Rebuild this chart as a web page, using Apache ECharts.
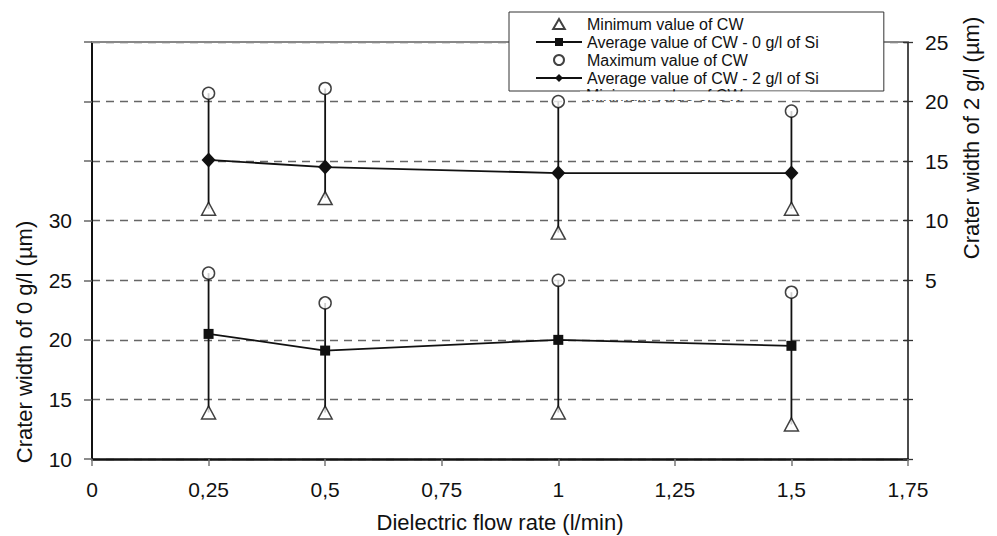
<!DOCTYPE html>
<html>
<head>
<meta charset="utf-8">
<title>Crater width vs dielectric flow rate</title>
<script src="https://cdn.jsdelivr.net/npm/echarts@6/dist/echarts.min.js"></script>
<style>
  html, body { margin: 0; padding: 0; background: #fff; }
  #chart { width: 997px; height: 536px; }
</style>
</head>
<body>
<div id="chart"></div>
<script>
// flow rates (l/min)
const flowRates = [0.25, 0.5, 1, 1.5];

// 0 g/l of Si, left axis
const avg0 = [20.5, 19.1, 20.0, 19.5];
const min0 = [13.9, 13.9, 13.9, 12.9];
const max0 = [25.6, 23.1, 25.0, 24.0];

// 2 g/l of Si, right axis
const avg2 = [15.1, 14.5, 14.0, 14.0];
const min2 = [11.0, 11.9, 9.0, 11.0];
const max2 = [20.7, 21.1, 20.0, 19.2];

const legendNames = [
  "Minimum value of CW",
  "Average value of CW - 0 g/l of Si",
  "Maximum value of CW",
  "Average value of CW - 2 g/l of Si",
];

const FONT = "'Liberation Sans', Arial, sans-serif";
const INK = "#111";

function pairs(xs, ys) {
  return xs.map((x, i) => [x, ys[i]]);
}

function errorBars(xs, lo, hi) {
  return xs.map((x, i) => [x, lo[i], hi[i]]);
}

function renderBar(params, api) {
  const p1 = api.coord([api.value(0), api.value(1)]);
  const p2 = api.coord([api.value(0), api.value(2)]);
  return {
    type: "line",
    shape: { x1: p1[0], y1: p1[1], x2: p2[0], y2: p2[1] },
    style: { stroke: INK, lineWidth: 1.8 },
  };
}

const openMarker = { color: "#fff", borderColor: INK, borderWidth: 1.5 };

const chart = echarts.init(document.getElementById("chart"), null, { renderer: "svg" });

const option = {
  animation: false,
  textStyle: { fontFamily: FONT },
  grid: { left: 92, right: 89, top: 42, bottom: 77, containLabel: false, outerBoundsMode: "none" },
  legend: {
    data: [
      { name: legendNames[0], icon: "path://M7,0 L14,12 L0,12 Z" },
      { name: legendNames[1] },
      { name: legendNames[2], icon: "circle" },
      { name: legendNames[3] },
    ],
    orient: "vertical",
    left: 509,
    top: 12,
    padding: [4, 65, 5, 26],
    itemGap: 2,
    itemWidth: 46,
    itemHeight: 10,
    symbolKeepAspect: true,
    backgroundColor: "#fff",
    borderColor: "#333",
    borderWidth: 1,
    borderRadius: 0,
    textStyle: { fontFamily: FONT, fontSize: 16, color: INK },
  },
  xAxis: [
    {
      type: "value",
      min: 0,
      max: 1.75,
      interval: 0.25,
      name: "Dielectric flow rate (l/min)",
      nameLocation: "middle",
      nameGap: 52,
      nameTextStyle: { fontFamily: FONT, fontSize: 22, color: INK },
      axisLine: { onZero: false, lineStyle: { color: INK, width: 2.5 } },
      axisTick: { length: 7, lineStyle: { color: "#777", width: 1.5 } },
      axisLabel: {
        margin: 20,
        fontSize: 21,
        color: INK,
        formatter: (v) => String(v).replace(".", ","),
      },
      splitLine: { show: false },
    },
    {
      // top border of the plot
      type: "value",
      position: "top",
      min: 0,
      max: 1.75,
      interval: 0.25,
      axisLine: { onZero: false, lineStyle: { color: "#888", width: 2 } },
      axisTick: { show: false },
      axisLabel: { show: false },
      splitLine: { show: false },
    },
  ],
  yAxis: [
    {
      type: "value",
      position: "left",
      min: 10,
      max: 45,
      interval: 5,
      axisLine: { show: true, onZero: false, lineStyle: { color: INK, width: 2 } },
      axisTick: { show: true, length: 8, lineStyle: { color: "#666", width: 1.5 } },
      axisLabel: {
        margin: 20,
        fontSize: 21,
        color: INK,
        formatter: (v) => (v <= 30 ? String(v) : ""),
      },
      splitLine: {
        show: true,
        lineStyle: { color: "#666", width: 1.3, type: [8, 6] },
      },
    },
    {
      type: "value",
      position: "right",
      min: -10,
      max: 25,
      interval: 5,
      axisLine: { show: true, onZero: false, lineStyle: { color: INK, width: 1.5 } },
      axisTick: { show: true, length: 5, lineStyle: { color: "#333", width: 1.3 } },
      axisLabel: {
        margin: 17,
        fontSize: 21,
        color: INK,
        formatter: (v) => (v >= 5 ? String(v) : ""),
      },
      splitLine: { show: false },
    },
    {
      // inner half of the crossing ticks on the right axis
      type: "value",
      position: "right",
      min: -10,
      max: 25,
      interval: 5,
      axisLine: { show: false, onZero: false },
      axisTick: { show: true, inside: true, length: 5, lineStyle: { color: "#333", width: 1.3 } },
      axisLabel: { show: false },
      splitLine: { show: false },
    },
  ],
  graphic: [
    {
      type: "text",
      x: 24,
      y: 342,
      rotation: Math.PI / 2,
      style: {
        text: "Crater width of 0 g/l (\u00b5m)",
        font: "22px " + FONT,
        fill: INK,
        align: "center",
        verticalAlign: "middle",
        textAlign: "center",
        textVerticalAlign: "middle",
      },
    },
    {
      type: "text",
      x: 971,
      y: 138,
      rotation: Math.PI / 2,
      style: {
        text: "Crater width of 2 g/l (\u00b5m)",
        font: "22px " + FONT,
        fill: INK,
        align: "center",
        verticalAlign: "middle",
        textAlign: "center",
        textVerticalAlign: "middle",
      },
    },
    {
      // fifth legend row, cut off by the legend box
      type: "text",
      x: 586,
      y: 95,
      z: 100,
      style: {
        text: "Minimum value of CW",
        font: "16px " + FONT,
        fill: INK,
        align: "left",
        verticalAlign: "middle",
        textAlign: "left",
        textVerticalAlign: "middle",
      },
    },
    {
      type: "rect",
      x: 580,
      y: 91.6,
      z: 101,
      shape: { width: 230, height: 8.6 },
      style: { fill: "#fff" },
    },
  ],
  series: [
    {
      name: "error-0",
      type: "custom",
      yAxisIndex: 0,
      renderItem: renderBar,
      encode: { x: 0, y: [1, 2] },
      data: errorBars(flowRates, min0, max0),
      z: 1,
    },
    {
      name: "error-2",
      type: "custom",
      yAxisIndex: 1,
      renderItem: renderBar,
      encode: { x: 0, y: [1, 2] },
      data: errorBars(flowRates, min2, max2),
      z: 1,
    },
    {
      name: legendNames[0],
      type: "scatter",
      yAxisIndex: 0,
      symbol: "triangle",
      symbolSize: [14, 13],
      itemStyle: openMarker,
      data: pairs(flowRates, min0),
      z: 3,
    },
    {
      name: legendNames[1],
      type: "line",
      yAxisIndex: 0,
      symbol: "rect",
      symbolSize: 10,
      showAllSymbol: true,
      lineStyle: { color: INK, width: 1.8 },
      itemStyle: { color: INK },
      data: pairs(flowRates, avg0),
      z: 3,
    },
    {
      name: legendNames[2],
      type: "scatter",
      yAxisIndex: 0,
      symbol: "circle",
      symbolSize: 12,
      itemStyle: openMarker,
      data: pairs(flowRates, max0),
      z: 3,
    },
    {
      name: legendNames[3],
      type: "line",
      yAxisIndex: 1,
      symbol: "diamond",
      symbolSize: [14, 15],
      showAllSymbol: true,
      lineStyle: { color: INK, width: 1.8 },
      itemStyle: { color: INK },
      data: pairs(flowRates, avg2),
      z: 3,
    },
    {
      name: legendNames[0],
      type: "scatter",
      yAxisIndex: 1,
      symbol: "triangle",
      symbolSize: [14, 13],
      itemStyle: openMarker,
      data: pairs(flowRates, min2),
      z: 3,
    },
    {
      name: legendNames[2],
      type: "scatter",
      yAxisIndex: 1,
      symbol: "circle",
      symbolSize: 12,
      itemStyle: openMarker,
      data: pairs(flowRates, max2),
      z: 3,
    },
  ],
};

chart.setOption(option);
</script>
</body>
</html>
